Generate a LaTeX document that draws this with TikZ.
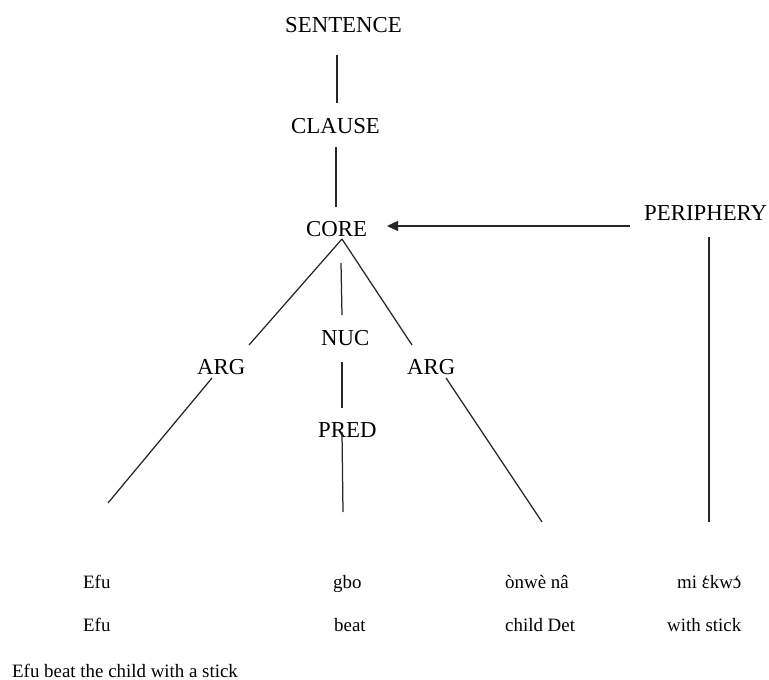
\documentclass[tikz,border=0pt]{standalone}
\usepackage{fontspec}
\setmainfont{Liberation Serif}
\usetikzlibrary{arrows.meta}
% grave accent set over a base letter that has no precomposed form
\newcommand\gravetop[1]{{\accent"60 #1}}
\begin{document}
\begin{tikzpicture}[x=1pt,y=-1pt,
  cat/.style={anchor=base west,inner sep=0pt,font=\fontsize{22.8}{27}\selectfont},
  word/.style={anchor=base west,inner sep=0pt,font=\fontsize{18.9}{22}\selectfont},
  edge/.style={line width=1.25pt,black!85},
  link/.style={line width=1.25pt,black!85,-{Triangle[length=11pt,width=10pt]}}]
\useasboundingbox (0,0) rectangle (769,680);

% category labels
\node[cat] (sentence) at (285,32) {SENTENCE};
\node[cat] (clause)   at (291,133) {CLAUSE};
\node[cat] (core)     at (306,236) {CORE};
\node[cat] (periph)   at (644,220) {PERIPHERY};
\node[cat] (argl)     at (197,374) {ARG};
\node[cat] (nuc)      at (321,345) {NUC};
\node[cat] (argr)     at (407,374) {ARG};
\node[cat] (pred)     at (318,437) {PRED};

% words and glosses
\node[word] (w1) at (83,588)  {Efu};
\node[word] (w2) at (333,588) {gbo};
\node[word] (w3) at (505,588) {ònwè nâ};
\node[word] (w4) at (677,588) {mi \gravetop{ɛ}kw\gravetop{ɔ}};
\node[word] (g1) at (83,631)  {Efu};
\node[word] (g2) at (334,631) {beat};
\node[word] (g3) at (505,631) {child Det};
\node[word] (g4) at (667,631) {with stick};
\node[word] (tr) at (12,677)  {Efu beat the child with a stick};

% edge end points
\coordinate (s-s)  at (337,55);
\coordinate (c-n)  at (337,103);
\coordinate (c-s)  at (336,147);
\coordinate (co-n) at (336,207);
\coordinate (co-s) at (342,239);
\coordinate (al-n) at (249,345);
\coordinate (ar-n) at (412,345);
\coordinate (n-n1) at (341,263);
\coordinate (n-n2) at (342,315);
\coordinate (n-s)  at (342,362);
\coordinate (p-n)  at (342,408);
\coordinate (p-s)  at (342,432);
\coordinate (w2-n) at (343,512);
\coordinate (al-s) at (212,378);
\coordinate (w1-n) at (108,503);
\coordinate (ar-s) at (446,378);
\coordinate (w3-n) at (542,522);
\coordinate (pe-s) at (709,237);
\coordinate (w4-n) at (709,522);
\coordinate (pe-w) at (630,226);
\coordinate (co-e) at (387,226);

% tree edges
\draw[edge] (s-s) -- (c-n);
\draw[edge] (c-s) -- (co-n);
\draw[edge] (co-s) -- (al-n);
\draw[edge] (co-s) -- (ar-n);
\draw[edge] (n-n1) -- (n-n2);
\draw[edge] (n-s) -- (p-n);
\draw[edge] (p-s) -- (w2-n);
\draw[edge] (al-s) -- (w1-n);
\draw[edge] (ar-s) -- (w3-n);
\draw[edge] (pe-s) -- (w4-n);
\draw[link] (pe-w) -- (co-e);
\end{tikzpicture}
\end{document}
